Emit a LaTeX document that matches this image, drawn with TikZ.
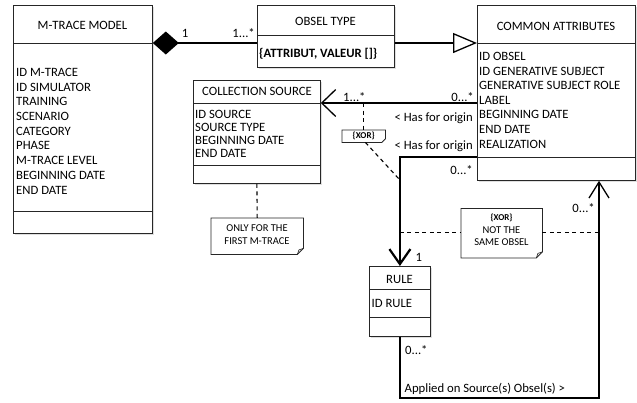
\documentclass[tikz,border=0pt]{standalone}
\usepackage{fontspec}
\setmainfont{Carlito}
\usetikzlibrary{arrows.meta,shadows,calc}
\newcommand\mainsz{\fontsize{12.7}{14}\selectfont}
\newcommand\notesz{\fontsize{10.5}{12}\selectfont}
\newcommand\xorsz{\fontsize{9}{10}\selectfont\bfseries}
\begin{document}
\begin{tikzpicture}[x=1pt,y=-1pt,
  box/.style={draw=black!85, line width=0.8pt, fill=white, anchor=north west, inner sep=0pt,
    drop shadow={shadow xshift=1.2pt, shadow yshift=-1.2pt, opacity=0.25}},
  sepline/.style={draw=black!85, line width=0.8pt},
  txt/.style={font=\mainsz, inner sep=0pt},
  notebox/.style={draw=none, anchor=north west, inner sep=0pt},
  noteline/.style={draw=black!85, line width=0.8pt, fill=white},
  conn/.style={line width=1.3pt},
  dashconn/.style={line width=1.1pt, dash pattern=on 4pt off 3.5pt}
]
\useasboundingbox (0,0) rectangle (637,402);

% ---------- boxes ----------
\node[box, minimum width=139pt, minimum height=228pt] (mtm) at (13,5) {};
\node[box, minimum width=137pt, minimum height=62pt] (ot) at (257,5) {};
\node[box, minimum width=158pt, minimum height=175pt] (ca) at (477,5) {};
\node[box, minimum width=127pt, minimum height=103pt] (cs) at (193,80) {};
\node[box, minimum width=61pt, minimum height=70pt] (rule) at (369,266) {};

% separators
\draw[sepline] (mtm.west |- 0,43) -- (mtm.east |- 0,43);
\draw[sepline] (mtm.west |- 0,211) -- (mtm.east |- 0,211);
\draw[sepline] (ot.west |- 0,35) -- (ot.east |- 0,35);
\draw[sepline] (ca.west |- 0,43) -- (ca.east |- 0,43);
\draw[sepline] (ca.west |- 0,157) -- (ca.east |- 0,157);
\draw[sepline] (cs.west |- 0,103) -- (cs.east |- 0,103);
\draw[sepline] (cs.west |- 0,165) -- (cs.east |- 0,165);
\draw[sepline] (rule.west |- 0,289) -- (rule.east |- 0,289);
\draw[sepline] (rule.west |- 0,317) -- (rule.east |- 0,317);

% ---------- box texts ----------
\node[txt, anchor=base] (mtmT) at (82.5,29.1) {M-TRACE MODEL};
\foreach \t [count=\i] in {ID M-TRACE, ID SIMULATOR, TRAINING, SCENARIO, CATEGORY, PHASE, M-TRACE LEVEL, BEGINNING DATE, END DATE}
  \node[txt, anchor=base west] (mtma\i) at (16,{76.4+14.7*(\i-1)}) {\t};

\node[txt, anchor=base] (otT) at (325.5,25.8) {OBSEL TYPE};
\node[txt, anchor=base west, font=\mainsz\bfseries] (otA) at (259,57.1) {\{ATTRIBUT, VALEUR []\}};

\node[txt, anchor=base] (caT) at (556,30.8) {COMMON ATTRIBUTES};
\foreach \t [count=\i] in {ID OBSEL, ID GENERATIVE SUBJECT, GENERATIVE SUBJECT ROLE, LABEL, BEGINNING DATE, END DATE, REALIZATION}
  \node[txt, anchor=base west] (caa\i) at (479,{60.4+14.6*(\i-1)}) {\t};

\node[txt, anchor=base] (csT) at (257,95.7) {COLLECTION SOURCE};
\foreach \t [count=\i] in {ID SOURCE, SOURCE TYPE, BEGINNING DATE, END DATE}
  \node[txt, anchor=base west] (csa\i) at (195,{118.9+13*(\i-1)}) {\t};

\node[txt, anchor=base] (ruleT) at (399.5,283.1) {RULE};
\node[txt, anchor=base west] (ruleA) at (371.5,307.1) {ID RULE};

% ---------- notes ----------
\node[notebox, minimum width=92pt, minimum height=36pt] (n1) at (211,218) {};
\draw[noteline] (n1.north west) -- (n1.north east) -- ([yshift=6pt]n1.south east) -- ([xshift=-6pt]n1.south east) -- (n1.south west) -- cycle;
\draw[sepline, line width=0.6pt] ([xshift=-6pt]n1.south east) -- ([xshift=-4.5pt,yshift=4.5pt]n1.south east) -- ([yshift=6pt]n1.south east);
\node[inner sep=0pt, font=\notesz, anchor=base] (n1a) at (257,231.6) {ONLY FOR THE};
\node[inner sep=0pt, font=\notesz, anchor=base] (n1b) at (257,244.6) {FIRST M-TRACE};

\node[notebox, minimum width=43pt, minimum height=12pt] (n2) at (342,130) {};
\draw[noteline] (n2.north west) -- (n2.north east) -- ([yshift=3.5pt]n2.south east) -- ([xshift=-3.5pt]n2.south east) -- (n2.south west) -- cycle;
\node[inner sep=0pt, font=\xorsz, anchor=center] (n2a) at (n2.center) {\{XOR\}};

\node[notebox, minimum width=81pt, minimum height=49pt] (n3) at (461,208.5) {};
\draw[noteline] (n3.north west) -- (n3.north east) -- ([yshift=6pt]n3.south east) -- ([xshift=-6pt]n3.south east) -- (n3.south west) -- cycle;
\draw[sepline, line width=0.6pt] ([xshift=-6pt]n3.south east) -- ([xshift=-4.5pt,yshift=4.5pt]n3.south east) -- ([yshift=6pt]n3.south east);
\node[inner sep=0pt, font=\xorsz, anchor=base] (n3a) at (501.5,220.3) {\{XOR\}};
\node[inner sep=0pt, font=\notesz, anchor=base] (n3b) at (501.5,233.2) {NOT THE};
\node[inner sep=0pt, font=\notesz, anchor=base] (n3c) at (501.5,245.9) {SAME OBSEL};

% ---------- connectors ----------
% composition
\draw[conn, -{Diamond[length=26pt,width=23pt,fill=black]}] (ot.west |- 0,43) -- (mtm.east |- 0,43);
\node[txt, anchor=base] (l1) at (185,37.1) {1};
\node[txt, anchor=base east] (l2) at (255,37.1) {1...*};

% generalisation
\draw[conn, -{Triangle[length=24pt,width=20pt,fill=white]}] (ot.east |- 0,43) -- (ca.west |- 0,43);

% has for origin -> collection source
\draw[conn, -{Straight Barb[length=14pt,width=27pt]}] (ca.west |- 0,103) -- (cs.east |- 0,103);
\node[txt, anchor=base west] (l3) at (343,101.1) {1...*};
\node[txt, anchor=base east] (l4) at (474,101.1) {0...*};
\node[txt, anchor=base east] (l5) at (473,121.4) {< Has for origin};

% has for origin -> rule (thick)
\draw[line width=2.2pt, -{Straight Barb[length=15pt,width=21pt]}] (ca.west |- 0,157) -- (rule.north |- 0,157) -- (rule.north);
\node[txt, anchor=base east] (l6) at (473,149.8) {< Has for origin};
\node[txt, anchor=base east] (l7) at (473,174.1) {0...*};
\node[txt, anchor=base west] (l8) at (415.5,261.4) {1};

% applied on
\draw[conn, -{Straight Barb[length=16pt,width=20pt]}] (rule.south) -- (rule.south |- 0,398) -- (599,398) -- (599,0 |- ca.south);
\node[txt, anchor=base west] (l9) at (405,354.1) {0...*};
\node[txt, anchor=base east] (l10) at (595,212.4) {0...*};
\node[txt, anchor=base west] (l11) at (404.5,392.1) {Applied on Source(s) Obsel(s) >};

% dashed constraint lines
\draw[dashconn] (cs.south) -- (n1.north);
\draw[dashconn] (n2.north |- 0,103) -- (n2.north);
\draw[dashconn] ([xshift=-20pt]n2.south east) -- (rule.north |- 0,180);
\draw[dashconn] (rule.north |- 0,232.5) -- (n3.west |- 0,232.5);
\draw[dashconn] (n3.east |- 0,232.5) -- (599,232.5);
\end{tikzpicture}
\end{document}
